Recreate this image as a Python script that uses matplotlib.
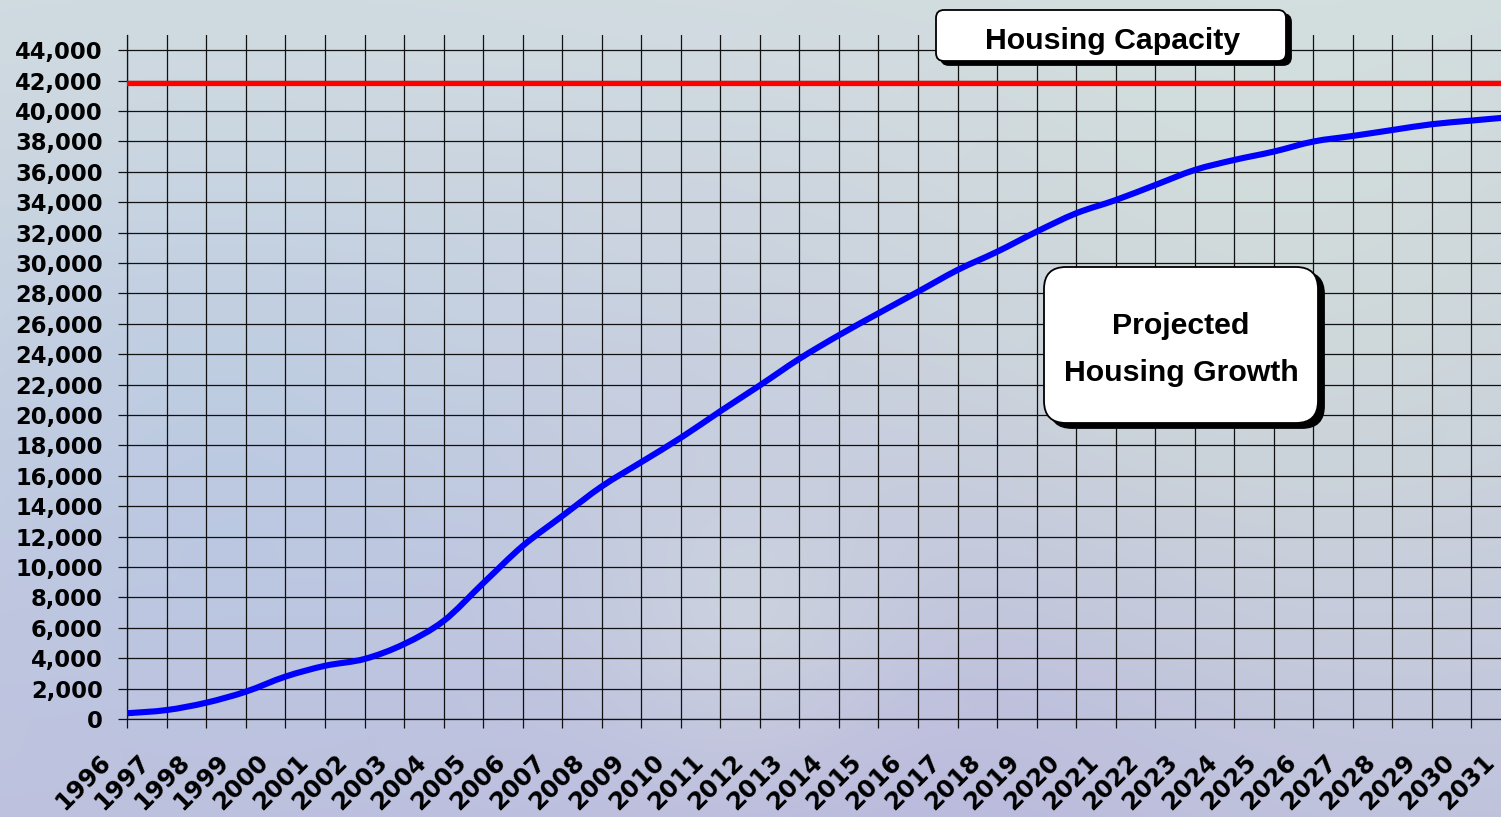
import numpy as np
import matplotlib
matplotlib.use("Agg")
import matplotlib.pyplot as plt
import matplotlib.transforms as mtransforms
from matplotlib.patches import FancyBboxPatch, PathPatch
from matplotlib.path import Path
from matplotlib.ticker import FuncFormatter

# data
years = list(range(1996, 2032))
housing = [380, 590, 1075, 1800, 2790, 3500, 3950, 4930, 6450, 8930,
           11380, 13350, 15300, 16900, 18500, 20250, 21950, 23700, 25250, 26690,
           28110, 29540, 30740, 32060, 33270, 34140, 35130, 36120, 36780, 37330,
           37990, 38360, 38750, 39130, 39370, 39600]
capacity = 41860
y_ticks = list(range(0, 44001, 2000))

W, H = 1501, 817
fig = plt.figure(figsize=(W / 100, H / 100), dpi=100)

# soft photo-like background
yy, xx = np.mgrid[0:1:H * 1j, 0:1:W * 1j]
top = np.array([0.82, 0.86, 0.88])
bot = np.array([0.75, 0.76, 0.87])
bg = top + (bot - top) * yy[..., None]


def blob(cx, cy, r, d):
    g = np.exp(-((xx - cx) ** 2 + ((yy - cy) * 0.55) ** 2) / (2 * r ** 2))
    return g[..., None] * np.array(d)


bg = bg + blob(0.85, 0.45, 0.18, [0.02, 0.03, -0.02])
bg = bg + blob(0.15, 0.55, 0.15, [-0.04, -0.01, 0.01])
bg = bg + blob(0.60, 0.97, 0.16, [-0.02, -0.03, 0.0])
bg = bg + blob(0.50, 0.78, 0.07, [0.04, 0.05, 0.0])
bg = np.clip(bg, 0, 1)
bax = fig.add_axes([0, 0, 1, 1], zorder=-1)
bax.imshow(bg, aspect="auto", extent=(0, 1, 0, 1))
bax.axis("off")

# main axes; the plot runs past the right edge (cropped like the original)
x0, x31, y0, ytop = 127.3, 1511.0, 719.0, 35.0
ax = fig.add_axes([x0 / W, (H - y0) / H, (x31 - x0) / W, (y0 - ytop) / H])
ax.set_facecolor("none")

# smoothed line through the points (Excel style bezier)
px = np.array(years, dtype=float)
py = np.array(housing, dtype=float)
n = len(px)
verts = [(px[0], py[0])]
codes = [Path.MOVETO]
for i in range(n - 1):
    a = max(i - 1, 0)
    b = min(i + 2, n - 1)
    c1 = (px[i] + (px[i + 1] - px[a]) / 6, py[i] + (py[i + 1] - py[a]) / 6)
    c2 = (px[i + 1] - (px[b] - px[i]) / 6, py[i + 1] - (py[b] - py[i]) / 6)
    verts += [c1, c2, (px[i + 1], py[i + 1])]
    codes += [Path.CURVE4] * 3
ax.add_patch(PathPatch(Path(verts, codes), fill=False, edgecolor="#0000ff",
                       lw=4.4, capstyle="round", joinstyle="round", zorder=4))
ax.axhline(capacity, color="#ff0000", lw=3.8, zorder=3)

ax.set_xlim(1996, 2031)
ax.set_ylim(0, 45000)
ax.set_xticks(years)
ax.set_yticks(y_ticks)
ax.yaxis.set_major_formatter(FuncFormatter(lambda v, p: f"{int(v):,}"))
ax.grid(True, color="#111111", lw=0.9)
ax.set_axisbelow(True)
for s in ["top", "right"]:
    ax.spines[s].set_visible(False)
for s in ["left", "bottom"]:
    ax.spines[s].set_color("#111111")
    ax.spines[s].set_linewidth(0.9)

ax.tick_params(direction="out", length=6.5, width=0.9, color="#111111",
               labelcolor="black")
ax.tick_params(axis="y", pad=11, labelsize=16.3)
ax.tick_params(axis="x", pad=16, labelsize=17.5)

offset = mtransforms.ScaledTranslation(-0.12, 0, fig.dpi_scale_trans)
for lbl in ax.get_xticklabels():
    lbl.set_fontweight("bold")
    lbl.set_rotation(45)
    lbl.set_ha("right")
    lbl.set_transform(lbl.get_transform() + offset)
for lbl in ax.get_yticklabels():
    lbl.set_fontweight("bold")


# callout boxes, positioned in pixels from the top-left
def callout(left, top_, right, bottom, rad, sh):
    ident = mtransforms.IdentityTransform()
    for dx, dy, fc in [(sh[0], sh[1], "black"), (0, 0, "white")]:
        p = FancyBboxPatch((left + dx, H - bottom - dy), right - left, bottom - top_,
                           boxstyle=f"round,pad=0,rounding_size={rad}",
                           transform=ident, facecolor=fc, edgecolor="black",
                           lw=1.3, zorder=10)
        fig.add_artist(p)


box_font = dict(family=["Liberation Sans", "DejaVu Sans"], weight="bold",
                size=21.8, ha="center", va="baseline", zorder=11)

callout(936, 10, 1286, 61, 8, (5, 4))
fig.text(1113 / W, 1 - 49 / H, "Housing Capacity", **box_font)

callout(1044, 267, 1318, 423, 22, (6, 5))
fig.text(1181 / W, 1 - 333.5 / H, "Projected", **box_font)
fig.text(1181 / W, 1 - 381 / H, "Housing Growth", **box_font)

fig.savefig("out.png", dpi=100)
